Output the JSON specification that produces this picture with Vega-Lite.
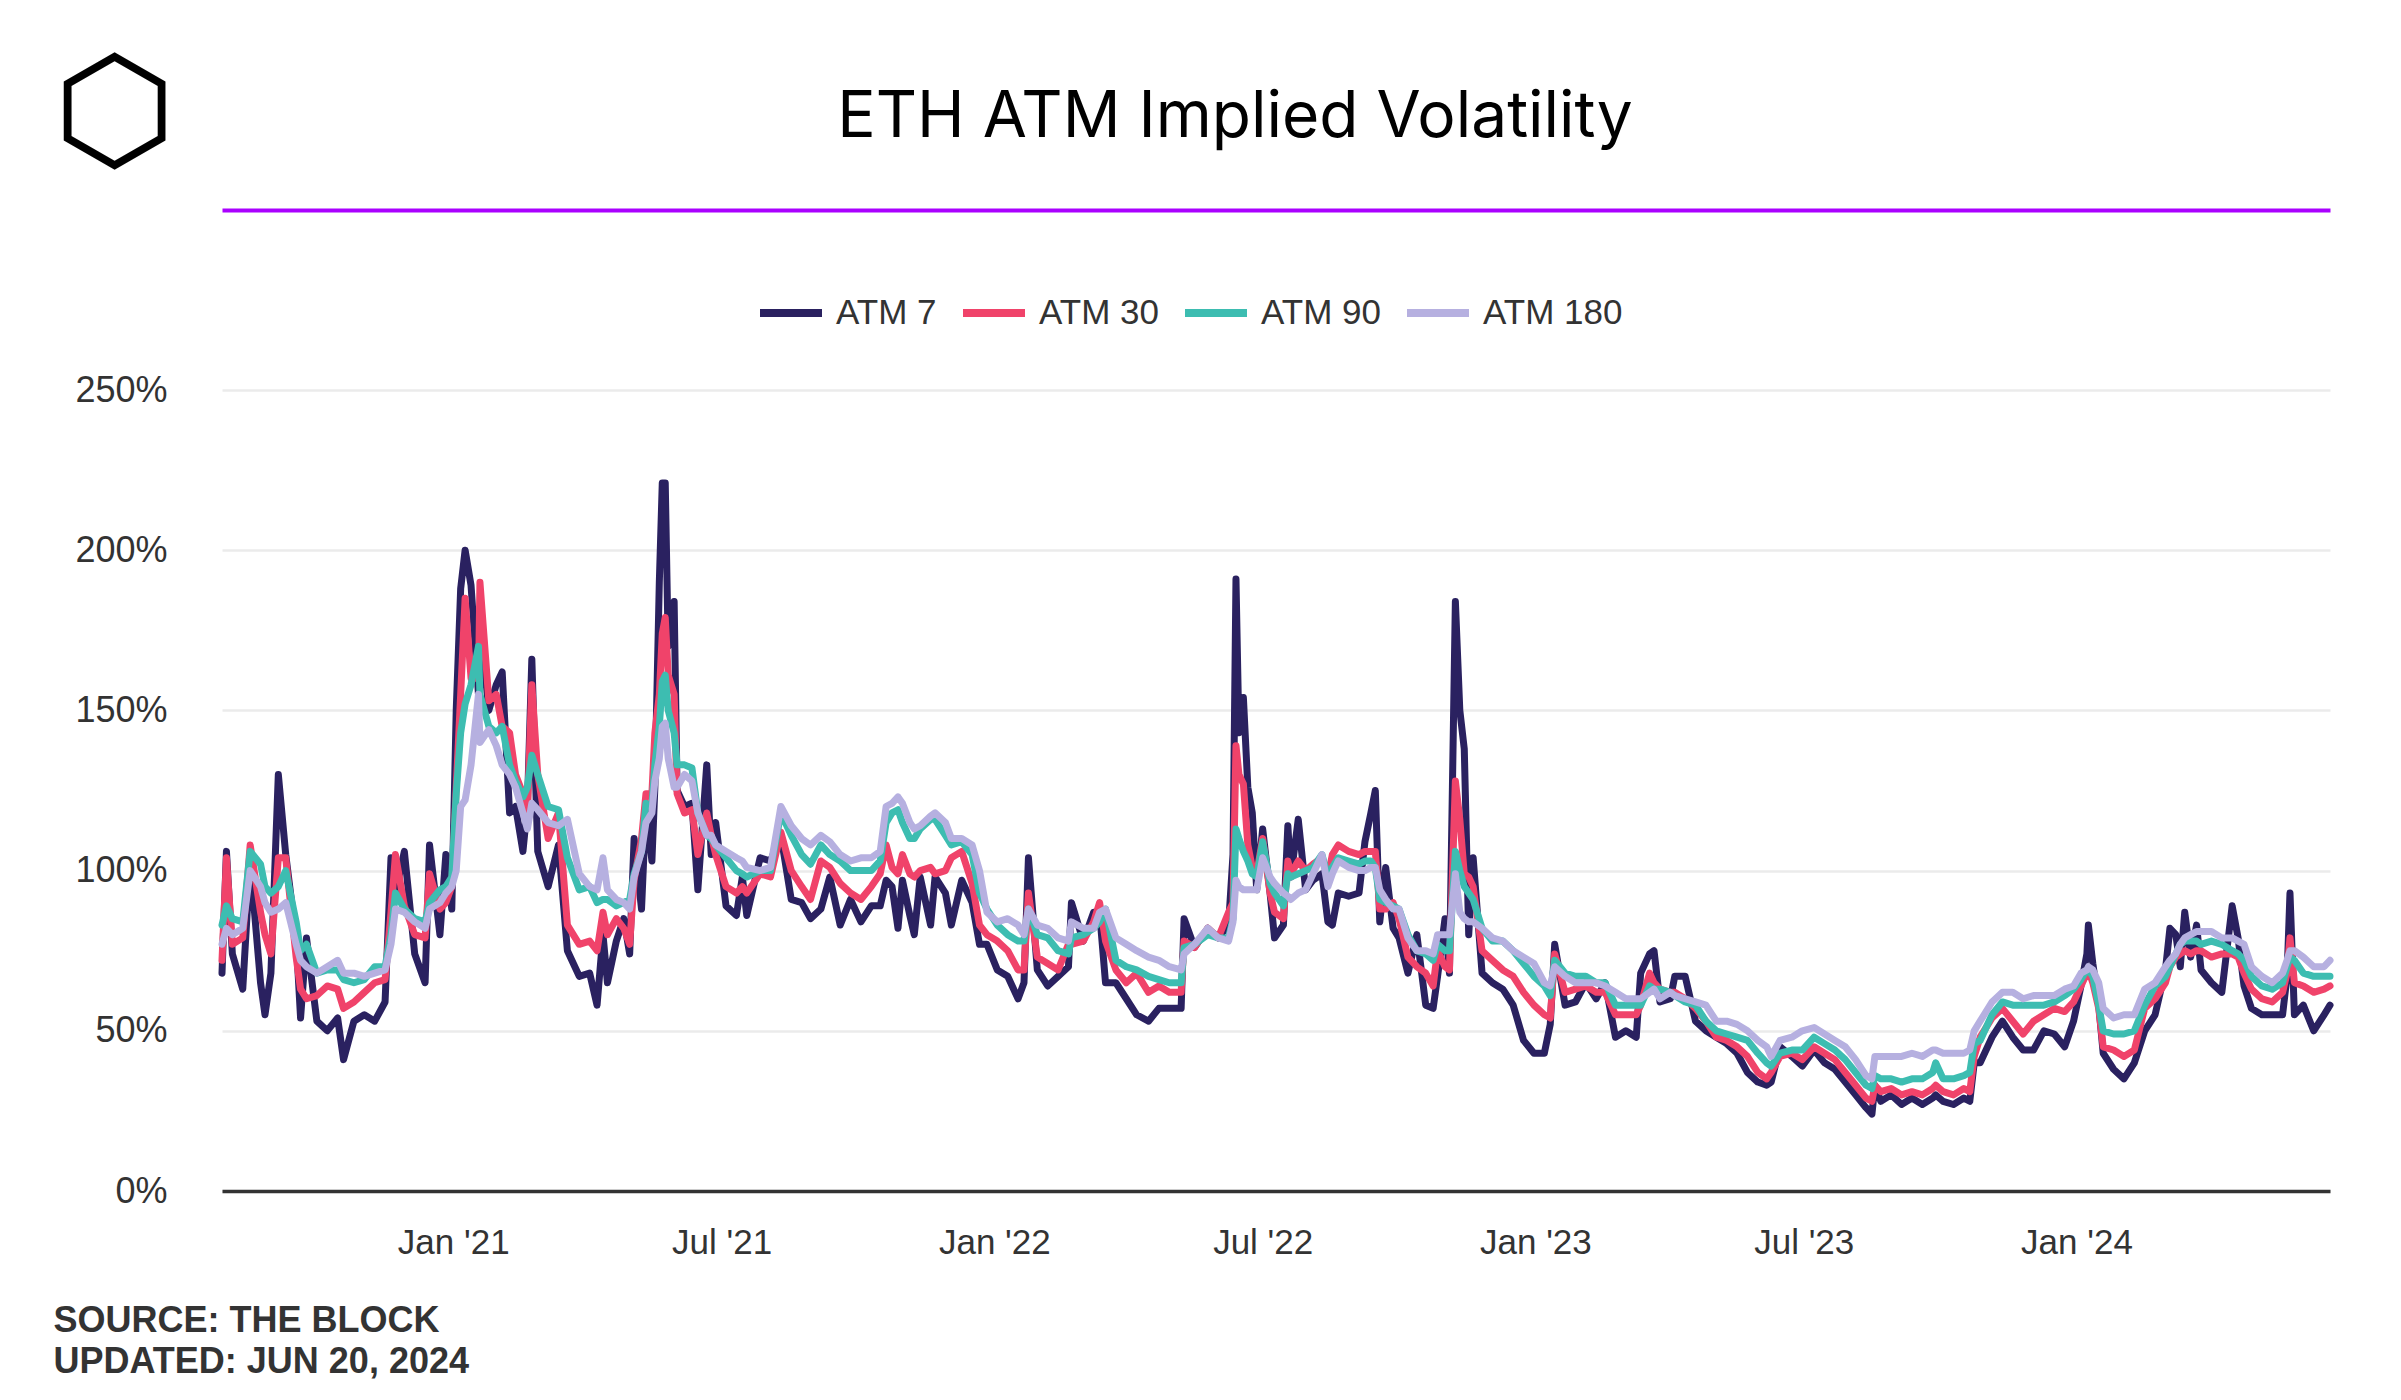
{
  "$schema": "https://vega.github.io/schema/vega-lite/v6.json",
  "width": 2108,
  "height": 801,
  "autosize": {"type": "none"},
  "padding": {"left": 222, "top": 390, "right": 71, "bottom": 209},
  "background": "#ffffff",
  "title": {"text": "ETH ATM Implied Volatility", "font": "Inter", "fontSize": 64, "fontWeight": 400, "color": "#000000", "anchor": "middle", "frame": "group", "dx": -41, "offset": -157, "baseline": "alphabetic"},
  "data": {
    "format": {"parse": {"d": "date:'%Y-%m-%d'"}},
    "values": [
      {"d":"2020-07-29","ATM 7":68,"ATM 30":72,"ATM 90":83,"ATM 180":77},
      {"d":"2020-08-01","ATM 7":106,"ATM 30":104,"ATM 90":89,"ATM 180":82},
      {"d":"2020-08-05","ATM 7":74,"ATM 30":77,"ATM 90":85,"ATM 180":80},
      {"d":"2020-08-12","ATM 7":63,"ATM 30":79,"ATM 90":84,"ATM 180":82},
      {"d":"2020-08-17","ATM 7":103,"ATM 30":108,"ATM 90":106,"ATM 180":100},
      {"d":"2020-08-24","ATM 7":65,"ATM 30":87,"ATM 90":102,"ATM 180":95},
      {"d":"2020-08-27","ATM 7":55,"ATM 30":80,"ATM 90":95,"ATM 180":90},
      {"d":"2020-08-31","ATM 7":68,"ATM 30":74,"ATM 90":93,"ATM 180":87},
      {"d":"2020-09-05","ATM 7":130,"ATM 30":104,"ATM 90":95,"ATM 180":88},
      {"d":"2020-09-10","ATM 7":105,"ATM 30":104,"ATM 90":100,"ATM 180":90},
      {"d":"2020-09-17","ATM 7":79,"ATM 30":73,"ATM 90":84,"ATM 180":77},
      {"d":"2020-09-20","ATM 7":54,"ATM 30":63,"ATM 90":75,"ATM 180":72},
      {"d":"2020-09-24","ATM 7":79,"ATM 30":60,"ATM 90":77,"ATM 180":70},
      {"d":"2020-10-01","ATM 7":53,"ATM 30":61,"ATM 90":68,"ATM 180":68},
      {"d":"2020-10-08","ATM 7":50,"ATM 30":64,"ATM 90":69,"ATM 180":70},
      {"d":"2020-10-15","ATM 7":54,"ATM 30":63,"ATM 90":69,"ATM 180":72},
      {"d":"2020-10-19","ATM 7":41,"ATM 30":57,"ATM 90":66,"ATM 180":68},
      {"d":"2020-10-26","ATM 7":53,"ATM 30":59,"ATM 90":65,"ATM 180":68},
      {"d":"2020-11-02","ATM 7":55,"ATM 30":62,"ATM 90":66,"ATM 180":67},
      {"d":"2020-11-09","ATM 7":53,"ATM 30":65,"ATM 90":70,"ATM 180":68},
      {"d":"2020-11-16","ATM 7":59,"ATM 30":66,"ATM 90":70,"ATM 180":69},
      {"d":"2020-11-20","ATM 7":104,"ATM 30":87,"ATM 90":80,"ATM 180":77},
      {"d":"2020-11-23","ATM 7":93,"ATM 30":105,"ATM 90":93,"ATM 180":88},
      {"d":"2020-11-29","ATM 7":106,"ATM 30":89,"ATM 90":88,"ATM 180":87},
      {"d":"2020-12-06","ATM 7":74,"ATM 30":80,"ATM 90":85,"ATM 180":84},
      {"d":"2020-12-13","ATM 7":65,"ATM 30":79,"ATM 90":84,"ATM 180":82},
      {"d":"2020-12-16","ATM 7":108,"ATM 30":99,"ATM 90":90,"ATM 180":88},
      {"d":"2020-12-23","ATM 7":80,"ATM 30":88,"ATM 90":94,"ATM 180":90},
      {"d":"2020-12-27","ATM 7":105,"ATM 30":90,"ATM 90":95,"ATM 180":93},
      {"d":"2020-12-31","ATM 7":88,"ATM 30":95,"ATM 90":98,"ATM 180":95},
      {"d":"2021-01-03","ATM 7":150,"ATM 30":126,"ATM 90":124,"ATM 180":100},
      {"d":"2021-01-06","ATM 7":188,"ATM 30":155,"ATM 90":143,"ATM 180":120},
      {"d":"2021-01-09","ATM 7":200,"ATM 30":185,"ATM 90":152,"ATM 180":122},
      {"d":"2021-01-13","ATM 7":189,"ATM 30":160,"ATM 90":158,"ATM 180":133},
      {"d":"2021-01-18","ATM 7":155,"ATM 30":160,"ATM 90":170,"ATM 180":155},
      {"d":"2021-01-19","ATM 7":178,"ATM 30":190,"ATM 90":155,"ATM 180":140},
      {"d":"2021-01-25","ATM 7":150,"ATM 30":153,"ATM 90":145,"ATM 180":144},
      {"d":"2021-01-30","ATM 7":158,"ATM 30":155,"ATM 90":143,"ATM 180":139},
      {"d":"2021-02-03","ATM 7":162,"ATM 30":145,"ATM 90":145,"ATM 180":133},
      {"d":"2021-02-08","ATM 7":118,"ATM 30":143,"ATM 90":133,"ATM 180":130},
      {"d":"2021-02-12","ATM 7":120,"ATM 30":130,"ATM 90":128,"ATM 180":126},
      {"d":"2021-02-17","ATM 7":106,"ATM 30":124,"ATM 90":123,"ATM 180":118},
      {"d":"2021-02-20","ATM 7":120,"ATM 30":118,"ATM 90":126,"ATM 180":113},
      {"d":"2021-02-23","ATM 7":166,"ATM 30":158,"ATM 90":136,"ATM 180":121},
      {"d":"2021-02-27","ATM 7":106,"ATM 30":130,"ATM 90":130,"ATM 180":119},
      {"d":"2021-03-06","ATM 7":95,"ATM 30":110,"ATM 90":120,"ATM 180":115},
      {"d":"2021-03-13","ATM 7":108,"ATM 30":118,"ATM 90":119,"ATM 180":114},
      {"d":"2021-03-19","ATM 7":75,"ATM 30":83,"ATM 90":104,"ATM 180":116},
      {"d":"2021-03-27","ATM 7":67,"ATM 30":77,"ATM 90":94,"ATM 180":99},
      {"d":"2021-04-03","ATM 7":68,"ATM 30":78,"ATM 90":95,"ATM 180":95},
      {"d":"2021-04-08","ATM 7":58,"ATM 30":75,"ATM 90":90,"ATM 180":94},
      {"d":"2021-04-12","ATM 7":80,"ATM 30":87,"ATM 90":91,"ATM 180":104},
      {"d":"2021-04-15","ATM 7":65,"ATM 30":80,"ATM 90":91,"ATM 180":94},
      {"d":"2021-04-21","ATM 7":78,"ATM 30":85,"ATM 90":89,"ATM 180":91},
      {"d":"2021-04-26","ATM 7":85,"ATM 30":82,"ATM 90":90,"ATM 180":90},
      {"d":"2021-04-30","ATM 7":74,"ATM 30":77,"ATM 90":91,"ATM 180":88},
      {"d":"2021-05-03","ATM 7":110,"ATM 30":97,"ATM 90":99,"ATM 180":98},
      {"d":"2021-05-08","ATM 7":88,"ATM 30":110,"ATM 90":106,"ATM 180":106},
      {"d":"2021-05-11","ATM 7":120,"ATM 30":124,"ATM 90":121,"ATM 180":115},
      {"d":"2021-05-15","ATM 7":103,"ATM 30":124,"ATM 90":120,"ATM 180":118},
      {"d":"2021-05-17","ATM 7":126,"ATM 30":143,"ATM 90":133,"ATM 180":128},
      {"d":"2021-05-20","ATM 7":190,"ATM 30":155,"ATM 90":145,"ATM 180":135},
      {"d":"2021-05-22","ATM 7":221,"ATM 30":174,"ATM 90":159,"ATM 180":145},
      {"d":"2021-05-24","ATM 7":221,"ATM 30":179,"ATM 90":161,"ATM 180":146},
      {"d":"2021-05-26","ATM 7":170,"ATM 30":161,"ATM 90":150,"ATM 180":135},
      {"d":"2021-05-30","ATM 7":184,"ATM 30":155,"ATM 90":143,"ATM 180":126},
      {"d":"2021-06-01","ATM 7":125,"ATM 30":124,"ATM 90":133,"ATM 180":126},
      {"d":"2021-06-06","ATM 7":120,"ATM 30":118,"ATM 90":133,"ATM 180":130},
      {"d":"2021-06-11","ATM 7":121,"ATM 30":119,"ATM 90":132,"ATM 180":128},
      {"d":"2021-06-15","ATM 7":94,"ATM 30":105,"ATM 90":118,"ATM 180":118},
      {"d":"2021-06-21","ATM 7":133,"ATM 30":118,"ATM 90":111,"ATM 180":111},
      {"d":"2021-06-24","ATM 7":105,"ATM 30":111,"ATM 90":110,"ATM 180":111},
      {"d":"2021-06-27","ATM 7":115,"ATM 30":105,"ATM 90":108,"ATM 180":108},
      {"d":"2021-07-04","ATM 7":89,"ATM 30":95,"ATM 90":104,"ATM 180":106},
      {"d":"2021-07-11","ATM 7":86,"ATM 30":93,"ATM 90":100,"ATM 180":104},
      {"d":"2021-07-15","ATM 7":98,"ATM 30":95,"ATM 90":99,"ATM 180":103},
      {"d":"2021-07-18","ATM 7":86,"ATM 30":93,"ATM 90":98,"ATM 180":101},
      {"d":"2021-07-27","ATM 7":104,"ATM 30":99,"ATM 90":100,"ATM 180":100},
      {"d":"2021-08-03","ATM 7":103,"ATM 30":98,"ATM 90":100,"ATM 180":101},
      {"d":"2021-08-10","ATM 7":111,"ATM 30":112,"ATM 90":118,"ATM 180":120},
      {"d":"2021-08-17","ATM 7":91,"ATM 30":100,"ATM 90":111,"ATM 180":114},
      {"d":"2021-08-24","ATM 7":90,"ATM 30":95,"ATM 90":105,"ATM 180":110},
      {"d":"2021-08-30","ATM 7":85,"ATM 30":91,"ATM 90":102,"ATM 180":108},
      {"d":"2021-09-06","ATM 7":88,"ATM 30":103,"ATM 90":108,"ATM 180":111},
      {"d":"2021-09-12","ATM 7":98,"ATM 30":101,"ATM 90":105,"ATM 180":109},
      {"d":"2021-09-19","ATM 7":83,"ATM 30":96,"ATM 90":103,"ATM 180":105},
      {"d":"2021-09-26","ATM 7":91,"ATM 30":93,"ATM 90":100,"ATM 180":103},
      {"d":"2021-10-03","ATM 7":84,"ATM 30":91,"ATM 90":100,"ATM 180":104},
      {"d":"2021-10-10","ATM 7":89,"ATM 30":95,"ATM 90":100,"ATM 180":104},
      {"d":"2021-10-16","ATM 7":89,"ATM 30":99,"ATM 90":103,"ATM 180":106},
      {"d":"2021-10-20","ATM 7":97,"ATM 30":108,"ATM 90":115,"ATM 180":120},
      {"d":"2021-10-24","ATM 7":95,"ATM 30":101,"ATM 90":118,"ATM 180":121},
      {"d":"2021-10-28","ATM 7":82,"ATM 30":99,"ATM 90":119,"ATM 180":123},
      {"d":"2021-10-31","ATM 7":97,"ATM 30":105,"ATM 90":115,"ATM 180":121},
      {"d":"2021-11-05","ATM 7":86,"ATM 30":99,"ATM 90":110,"ATM 180":115},
      {"d":"2021-11-08","ATM 7":80,"ATM 30":98,"ATM 90":110,"ATM 180":113},
      {"d":"2021-11-12","ATM 7":98,"ATM 30":100,"ATM 90":113,"ATM 180":114},
      {"d":"2021-11-19","ATM 7":83,"ATM 30":101,"ATM 90":116,"ATM 180":117},
      {"d":"2021-11-22","ATM 7":98,"ATM 30":99,"ATM 90":116,"ATM 180":118},
      {"d":"2021-11-29","ATM 7":93,"ATM 30":100,"ATM 90":111,"ATM 180":115},
      {"d":"2021-12-03","ATM 7":83,"ATM 30":104,"ATM 90":108,"ATM 180":110},
      {"d":"2021-12-10","ATM 7":97,"ATM 30":106,"ATM 90":109,"ATM 180":110},
      {"d":"2021-12-17","ATM 7":90,"ATM 30":96,"ATM 90":105,"ATM 180":108},
      {"d":"2021-12-22","ATM 7":77,"ATM 30":83,"ATM 90":93,"ATM 180":100},
      {"d":"2021-12-27","ATM 7":77,"ATM 30":80,"ATM 90":88,"ATM 180":87},
      {"d":"2022-01-03","ATM 7":69,"ATM 30":78,"ATM 90":83,"ATM 180":84},
      {"d":"2022-01-10","ATM 7":67,"ATM 30":75,"ATM 90":80,"ATM 180":85},
      {"d":"2022-01-17","ATM 7":60,"ATM 30":69,"ATM 90":78,"ATM 180":83},
      {"d":"2022-01-21","ATM 7":65,"ATM 30":69,"ATM 90":78,"ATM 180":80},
      {"d":"2022-01-24","ATM 7":104,"ATM 30":93,"ATM 90":88,"ATM 180":88},
      {"d":"2022-01-30","ATM 7":69,"ATM 30":73,"ATM 90":80,"ATM 180":83},
      {"d":"2022-02-06","ATM 7":64,"ATM 30":71,"ATM 90":79,"ATM 180":82},
      {"d":"2022-02-13","ATM 7":67,"ATM 30":69,"ATM 90":75,"ATM 180":79},
      {"d":"2022-02-20","ATM 7":70,"ATM 30":77,"ATM 90":74,"ATM 180":78},
      {"d":"2022-02-22","ATM 7":90,"ATM 30":77,"ATM 90":79,"ATM 180":84},
      {"d":"2022-03-02","ATM 7":78,"ATM 30":78,"ATM 90":80,"ATM 180":82},
      {"d":"2022-03-09","ATM 7":87,"ATM 30":84,"ATM 90":82,"ATM 180":82},
      {"d":"2022-03-13","ATM 7":87,"ATM 30":90,"ATM 90":84,"ATM 180":87},
      {"d":"2022-03-17","ATM 7":65,"ATM 30":78,"ATM 90":88,"ATM 180":88},
      {"d":"2022-03-24","ATM 7":65,"ATM 30":69,"ATM 90":72,"ATM 180":79},
      {"d":"2022-03-31","ATM 7":60,"ATM 30":65,"ATM 90":70,"ATM 180":77},
      {"d":"2022-04-07","ATM 7":55,"ATM 30":68,"ATM 90":69,"ATM 180":75},
      {"d":"2022-04-15","ATM 7":53,"ATM 30":62,"ATM 90":67,"ATM 180":73},
      {"d":"2022-04-22","ATM 7":57,"ATM 30":64,"ATM 90":66,"ATM 180":72},
      {"d":"2022-04-29","ATM 7":57,"ATM 30":62,"ATM 90":65,"ATM 180":70},
      {"d":"2022-05-07","ATM 7":57,"ATM 30":62,"ATM 90":65,"ATM 180":69},
      {"d":"2022-05-09","ATM 7":85,"ATM 30":78,"ATM 90":76,"ATM 180":74},
      {"d":"2022-05-16","ATM 7":76,"ATM 30":76,"ATM 90":77,"ATM 180":77},
      {"d":"2022-05-25","ATM 7":82,"ATM 30":82,"ATM 90":80,"ATM 180":82},
      {"d":"2022-06-01","ATM 7":79,"ATM 30":79,"ATM 90":79,"ATM 180":79},
      {"d":"2022-06-08","ATM 7":83,"ATM 30":87,"ATM 90":79,"ATM 180":78},
      {"d":"2022-06-11","ATM 7":105,"ATM 30":90,"ATM 90":85,"ATM 180":84},
      {"d":"2022-06-13","ATM 7":191,"ATM 30":139,"ATM 90":113,"ATM 180":97},
      {"d":"2022-06-15","ATM 7":143,"ATM 30":130,"ATM 90":110,"ATM 180":95},
      {"d":"2022-06-18","ATM 7":154,"ATM 30":127,"ATM 90":106,"ATM 180":94},
      {"d":"2022-06-21","ATM 7":126,"ATM 30":108,"ATM 90":103,"ATM 180":94},
      {"d":"2022-06-24","ATM 7":118,"ATM 30":101,"ATM 90":99,"ATM 180":94},
      {"d":"2022-06-27","ATM 7":94,"ATM 30":99,"ATM 90":98,"ATM 180":94},
      {"d":"2022-07-01","ATM 7":113,"ATM 30":110,"ATM 90":109,"ATM 180":104},
      {"d":"2022-07-06","ATM 7":93,"ATM 30":93,"ATM 90":96,"ATM 180":98},
      {"d":"2022-07-09","ATM 7":79,"ATM 30":87,"ATM 90":93,"ATM 180":96},
      {"d":"2022-07-15","ATM 7":83,"ATM 30":85,"ATM 90":89,"ATM 180":93},
      {"d":"2022-07-18","ATM 7":114,"ATM 30":103,"ATM 90":99,"ATM 180":92},
      {"d":"2022-07-20","ATM 7":98,"ATM 30":99,"ATM 90":98,"ATM 180":91},
      {"d":"2022-07-25","ATM 7":116,"ATM 30":103,"ATM 90":99,"ATM 180":93},
      {"d":"2022-07-30","ATM 7":94,"ATM 30":100,"ATM 90":100,"ATM 180":94},
      {"d":"2022-08-04","ATM 7":97,"ATM 30":102,"ATM 90":101,"ATM 180":99},
      {"d":"2022-08-10","ATM 7":99,"ATM 30":104,"ATM 90":105,"ATM 180":105},
      {"d":"2022-08-14","ATM 7":84,"ATM 30":98,"ATM 90":98,"ATM 180":95},
      {"d":"2022-08-17","ATM 7":83,"ATM 30":105,"ATM 90":101,"ATM 180":99},
      {"d":"2022-08-21","ATM 7":93,"ATM 30":108,"ATM 90":104,"ATM 180":103},
      {"d":"2022-08-28","ATM 7":92,"ATM 30":106,"ATM 90":103,"ATM 180":101},
      {"d":"2022-09-04","ATM 7":93,"ATM 30":105,"ATM 90":102,"ATM 180":100},
      {"d":"2022-09-08","ATM 7":109,"ATM 30":106,"ATM 90":103,"ATM 180":100},
      {"d":"2022-09-12","ATM 7":118,"ATM 30":106,"ATM 90":103,"ATM 180":101},
      {"d":"2022-09-15","ATM 7":125,"ATM 30":106,"ATM 90":101,"ATM 180":101},
      {"d":"2022-09-18","ATM 7":84,"ATM 30":88,"ATM 90":91,"ATM 180":94},
      {"d":"2022-09-22","ATM 7":101,"ATM 30":88,"ATM 90":90,"ATM 180":91},
      {"d":"2022-09-27","ATM 7":82,"ATM 30":90,"ATM 90":89,"ATM 180":88},
      {"d":"2022-10-01","ATM 7":79,"ATM 30":85,"ATM 90":88,"ATM 180":88},
      {"d":"2022-10-07","ATM 7":68,"ATM 30":73,"ATM 90":80,"ATM 180":79},
      {"d":"2022-10-13","ATM 7":80,"ATM 30":70,"ATM 90":75,"ATM 180":75},
      {"d":"2022-10-19","ATM 7":58,"ATM 30":68,"ATM 90":74,"ATM 180":75},
      {"d":"2022-10-24","ATM 7":57,"ATM 30":64,"ATM 90":72,"ATM 180":74},
      {"d":"2022-10-27","ATM 7":67,"ATM 30":75,"ATM 90":77,"ATM 180":80},
      {"d":"2022-11-01","ATM 7":85,"ATM 30":70,"ATM 90":75,"ATM 180":80},
      {"d":"2022-11-04","ATM 7":68,"ATM 30":69,"ATM 90":75,"ATM 180":80},
      {"d":"2022-11-08","ATM 7":184,"ATM 30":128,"ATM 90":106,"ATM 180":99},
      {"d":"2022-11-11","ATM 7":150,"ATM 30":116,"ATM 90":100,"ATM 180":87},
      {"d":"2022-11-14","ATM 7":138,"ATM 30":99,"ATM 90":95,"ATM 180":85},
      {"d":"2022-11-17","ATM 7":80,"ATM 30":98,"ATM 90":93,"ATM 180":84},
      {"d":"2022-11-20","ATM 7":104,"ATM 30":95,"ATM 90":91,"ATM 180":84},
      {"d":"2022-11-26","ATM 7":68,"ATM 30":75,"ATM 90":82,"ATM 180":82},
      {"d":"2022-12-03","ATM 7":65,"ATM 30":72,"ATM 90":78,"ATM 180":79},
      {"d":"2022-12-10","ATM 7":63,"ATM 30":69,"ATM 90":78,"ATM 180":78},
      {"d":"2022-12-17","ATM 7":58,"ATM 30":67,"ATM 90":75,"ATM 180":75},
      {"d":"2022-12-24","ATM 7":47,"ATM 30":62,"ATM 90":71,"ATM 180":73},
      {"d":"2022-12-31","ATM 7":43,"ATM 30":58,"ATM 90":67,"ATM 180":71},
      {"d":"2023-01-07","ATM 7":43,"ATM 30":55,"ATM 90":64,"ATM 180":65},
      {"d":"2023-01-11","ATM 7":52,"ATM 30":54,"ATM 90":61,"ATM 180":64},
      {"d":"2023-01-14","ATM 7":77,"ATM 30":74,"ATM 90":72,"ATM 180":70},
      {"d":"2023-01-21","ATM 7":58,"ATM 30":62,"ATM 90":68,"ATM 180":67},
      {"d":"2023-01-28","ATM 7":59,"ATM 30":63,"ATM 90":67,"ATM 180":65},
      {"d":"2023-02-04","ATM 7":65,"ATM 30":64,"ATM 90":67,"ATM 180":65},
      {"d":"2023-02-11","ATM 7":60,"ATM 30":62,"ATM 90":65,"ATM 180":65},
      {"d":"2023-02-17","ATM 7":65,"ATM 30":62,"ATM 90":65,"ATM 180":64},
      {"d":"2023-02-24","ATM 7":48,"ATM 30":55,"ATM 90":58,"ATM 180":62},
      {"d":"2023-03-03","ATM 7":50,"ATM 30":55,"ATM 90":58,"ATM 180":60},
      {"d":"2023-03-10","ATM 7":48,"ATM 30":55,"ATM 90":58,"ATM 180":60},
      {"d":"2023-03-13","ATM 7":68,"ATM 30":58,"ATM 90":58,"ATM 180":60},
      {"d":"2023-03-19","ATM 7":74,"ATM 30":68,"ATM 90":64,"ATM 180":62},
      {"d":"2023-03-22","ATM 7":75,"ATM 30":65,"ATM 90":63,"ATM 180":63},
      {"d":"2023-03-26","ATM 7":59,"ATM 30":63,"ATM 90":63,"ATM 180":60},
      {"d":"2023-04-02","ATM 7":60,"ATM 30":62,"ATM 90":62,"ATM 180":62},
      {"d":"2023-04-05","ATM 7":67,"ATM 30":62,"ATM 90":61,"ATM 180":61},
      {"d":"2023-04-12","ATM 7":67,"ATM 30":60,"ATM 90":59,"ATM 180":60},
      {"d":"2023-04-19","ATM 7":53,"ATM 30":57,"ATM 90":58,"ATM 180":59},
      {"d":"2023-04-26","ATM 7":50,"ATM 30":53,"ATM 90":53,"ATM 180":58},
      {"d":"2023-05-03","ATM 7":48,"ATM 30":48,"ATM 90":50,"ATM 180":53},
      {"d":"2023-05-10","ATM 7":46,"ATM 30":47,"ATM 90":49,"ATM 180":53},
      {"d":"2023-05-17","ATM 7":43,"ATM 30":45,"ATM 90":48,"ATM 180":52},
      {"d":"2023-05-24","ATM 7":37,"ATM 30":42,"ATM 90":47,"ATM 180":50},
      {"d":"2023-05-31","ATM 7":34,"ATM 30":37,"ATM 90":43,"ATM 180":47},
      {"d":"2023-06-06","ATM 7":33,"ATM 30":35,"ATM 90":40,"ATM 180":45},
      {"d":"2023-06-09","ATM 7":34,"ATM 30":37,"ATM 90":39,"ATM 180":42},
      {"d":"2023-06-15","ATM 7":45,"ATM 30":42,"ATM 90":43,"ATM 180":47},
      {"d":"2023-06-23","ATM 7":42,"ATM 30":43,"ATM 90":44,"ATM 180":48},
      {"d":"2023-06-30","ATM 7":39,"ATM 30":41,"ATM 90":44,"ATM 180":50},
      {"d":"2023-07-08","ATM 7":44,"ATM 30":45,"ATM 90":48,"ATM 180":51},
      {"d":"2023-07-15","ATM 7":40,"ATM 30":43,"ATM 90":46,"ATM 180":49},
      {"d":"2023-07-22","ATM 7":38,"ATM 30":41,"ATM 90":44,"ATM 180":47},
      {"d":"2023-07-29","ATM 7":34,"ATM 30":37,"ATM 90":41,"ATM 180":45},
      {"d":"2023-08-05","ATM 7":30,"ATM 30":33,"ATM 90":37,"ATM 180":41},
      {"d":"2023-08-12","ATM 7":26,"ATM 30":29,"ATM 90":33,"ATM 180":36},
      {"d":"2023-08-16","ATM 7":24,"ATM 30":28,"ATM 90":32,"ATM 180":35},
      {"d":"2023-08-18","ATM 7":33,"ATM 30":33,"ATM 90":36,"ATM 180":42},
      {"d":"2023-08-22","ATM 7":28,"ATM 30":31,"ATM 90":35,"ATM 180":42},
      {"d":"2023-08-29","ATM 7":30,"ATM 30":32,"ATM 90":35,"ATM 180":42},
      {"d":"2023-09-05","ATM 7":27,"ATM 30":30,"ATM 90":34,"ATM 180":42},
      {"d":"2023-09-12","ATM 7":29,"ATM 30":31,"ATM 90":35,"ATM 180":43},
      {"d":"2023-09-19","ATM 7":27,"ATM 30":30,"ATM 90":35,"ATM 180":42},
      {"d":"2023-09-26","ATM 7":29,"ATM 30":32,"ATM 90":37,"ATM 180":44},
      {"d":"2023-09-28","ATM 7":30,"ATM 30":33,"ATM 90":40,"ATM 180":44},
      {"d":"2023-10-03","ATM 7":28,"ATM 30":31,"ATM 90":35,"ATM 180":43},
      {"d":"2023-10-10","ATM 7":27,"ATM 30":30,"ATM 90":35,"ATM 180":43},
      {"d":"2023-10-17","ATM 7":29,"ATM 30":32,"ATM 90":36,"ATM 180":43},
      {"d":"2023-10-21","ATM 7":28,"ATM 30":31,"ATM 90":37,"ATM 180":44},
      {"d":"2023-10-24","ATM 7":40,"ATM 30":42,"ATM 90":46,"ATM 180":50},
      {"d":"2023-10-28","ATM 7":40,"ATM 30":48,"ATM 90":47,"ATM 180":53},
      {"d":"2023-11-05","ATM 7":48,"ATM 30":54,"ATM 90":55,"ATM 180":59},
      {"d":"2023-11-12","ATM 7":53,"ATM 30":57,"ATM 90":59,"ATM 180":62},
      {"d":"2023-11-19","ATM 7":48,"ATM 30":53,"ATM 90":58,"ATM 180":62},
      {"d":"2023-11-26","ATM 7":44,"ATM 30":49,"ATM 90":58,"ATM 180":60},
      {"d":"2023-12-03","ATM 7":44,"ATM 30":53,"ATM 90":58,"ATM 180":61},
      {"d":"2023-12-10","ATM 7":50,"ATM 30":55,"ATM 90":58,"ATM 180":61},
      {"d":"2023-12-17","ATM 7":49,"ATM 30":57,"ATM 90":59,"ATM 180":61},
      {"d":"2023-12-24","ATM 7":45,"ATM 30":56,"ATM 90":61,"ATM 180":63},
      {"d":"2023-12-30","ATM 7":53,"ATM 30":59,"ATM 90":63,"ATM 180":64},
      {"d":"2024-01-04","ATM 7":64,"ATM 30":64,"ATM 90":66,"ATM 180":68},
      {"d":"2024-01-08","ATM 7":74,"ATM 30":68,"ATM 90":69,"ATM 180":69},
      {"d":"2024-01-09","ATM 7":83,"ATM 30":69,"ATM 90":69,"ATM 180":70},
      {"d":"2024-01-12","ATM 7":71,"ATM 30":65,"ATM 90":67,"ATM 180":69},
      {"d":"2024-01-16","ATM 7":58,"ATM 30":57,"ATM 90":58,"ATM 180":65},
      {"d":"2024-01-19","ATM 7":43,"ATM 30":45,"ATM 90":50,"ATM 180":57},
      {"d":"2024-01-26","ATM 7":38,"ATM 30":44,"ATM 90":49,"ATM 180":54},
      {"d":"2024-02-02","ATM 7":35,"ATM 30":42,"ATM 90":49,"ATM 180":55},
      {"d":"2024-02-09","ATM 7":40,"ATM 30":44,"ATM 90":50,"ATM 180":55},
      {"d":"2024-02-16","ATM 7":50,"ATM 30":57,"ATM 90":58,"ATM 180":63},
      {"d":"2024-02-23","ATM 7":55,"ATM 30":60,"ATM 90":64,"ATM 180":65},
      {"d":"2024-03-01","ATM 7":69,"ATM 30":65,"ATM 90":67,"ATM 180":70},
      {"d":"2024-03-04","ATM 7":82,"ATM 30":70,"ATM 90":70,"ATM 180":72},
      {"d":"2024-03-08","ATM 7":80,"ATM 30":73,"ATM 90":74,"ATM 180":74},
      {"d":"2024-03-11","ATM 7":70,"ATM 30":74,"ATM 90":77,"ATM 180":77},
      {"d":"2024-03-14","ATM 7":87,"ATM 30":75,"ATM 90":78,"ATM 180":79},
      {"d":"2024-03-18","ATM 7":73,"ATM 30":74,"ATM 90":78,"ATM 180":80},
      {"d":"2024-03-22","ATM 7":83,"ATM 30":75,"ATM 90":78,"ATM 180":81},
      {"d":"2024-03-25","ATM 7":69,"ATM 30":75,"ATM 90":77,"ATM 180":81},
      {"d":"2024-04-01","ATM 7":65,"ATM 30":73,"ATM 90":78,"ATM 180":81},
      {"d":"2024-04-08","ATM 7":62,"ATM 30":74,"ATM 90":77,"ATM 180":79},
      {"d":"2024-04-15","ATM 7":89,"ATM 30":74,"ATM 90":75,"ATM 180":79},
      {"d":"2024-04-19","ATM 7":79,"ATM 30":73,"ATM 90":74,"ATM 180":78},
      {"d":"2024-04-23","ATM 7":64,"ATM 30":68,"ATM 90":72,"ATM 180":77},
      {"d":"2024-04-28","ATM 7":57,"ATM 30":63,"ATM 90":67,"ATM 180":70},
      {"d":"2024-05-05","ATM 7":55,"ATM 30":60,"ATM 90":64,"ATM 180":67},
      {"d":"2024-05-12","ATM 7":55,"ATM 30":59,"ATM 90":63,"ATM 180":65},
      {"d":"2024-05-19","ATM 7":55,"ATM 30":62,"ATM 90":65,"ATM 180":68},
      {"d":"2024-05-22","ATM 7":67,"ATM 30":68,"ATM 90":70,"ATM 180":72},
      {"d":"2024-05-24","ATM 7":93,"ATM 30":79,"ATM 90":73,"ATM 180":75},
      {"d":"2024-05-27","ATM 7":55,"ATM 30":65,"ATM 90":72,"ATM 180":75},
      {"d":"2024-06-02","ATM 7":58,"ATM 30":64,"ATM 90":68,"ATM 180":73},
      {"d":"2024-06-09","ATM 7":50,"ATM 30":62,"ATM 90":67,"ATM 180":70},
      {"d":"2024-06-16","ATM 7":55,"ATM 30":63,"ATM 90":67,"ATM 180":70},
      {"d":"2024-06-20","ATM 7":58,"ATM 30":64,"ATM 90":67,"ATM 180":72}
    ]
  },
  "transform": [{"fold": ["ATM 7", "ATM 30", "ATM 90", "ATM 180"], "as": ["series", "iv"]}],
  "encoding": {
    "x": {
      "field": "d", "type": "temporal", "scale": {"nice": false},
      "axis": {
        "values": [
          {"year": 2021, "month": 1, "date": 1}, {"year": 2021, "month": 7, "date": 1},
          {"year": 2022, "month": 1, "date": 1}, {"year": 2022, "month": 7, "date": 1},
          {"year": 2023, "month": 1, "date": 1}, {"year": 2023, "month": 7, "date": 1},
          {"year": 2024, "month": 1, "date": 1}
        ],
        "format": "%b '%y",
        "labelFont": "Liberation Sans", "labelFontSize": 35, "labelColor": "#333333", "labelPadding": 34,
        "labelFlush": false, "labelOverlap": false,
        "ticks": false, "grid": false,
        "domain": true, "domainColor": "#333333", "domainWidth": 3.5,
        "title": ["SOURCE: THE BLOCK", "UPDATED: JUN 20, 2024"],
        "titleFont": "Liberation Sans", "titleFontSize": 36, "titleFontWeight": "bold", "titleColor": "#333333",
        "titleX": -169, "titleY": 140, "titleAlign": "left", "titleAnchor": "start", "titleBaseline": "alphabetic", "titleLineHeight": 41
      }
    },
    "y": {
      "field": "iv", "type": "quantitative",
      "scale": {"domain": [0, 250], "nice": false},
      "axis": {
        "values": [0, 50, 100, 150, 200, 250],
        "labelExpr": "datum.value + '%'",
        "labelFont": "Liberation Sans", "labelFontSize": 36, "labelColor": "#333333", "labelPadding": 55,
        "ticks": false, "domain": false,
        "grid": true, "gridColor": "#ebebeb", "gridWidth": 2.5,
        "title": "⬡", "titleFont": "DejaVu Sans", "titleFontSize": 140, "titleFontWeight": "bold", "titleColor": "#000000",
        "titleAngle": 0, "titleX": -108, "titleY": -276, "titleAlign": "center", "titleBaseline": "middle"
      }
    },
    "color": {
      "field": "series", "type": "nominal",
      "scale": {"domain": ["ATM 7", "ATM 30", "ATM 90", "ATM 180"], "range": ["#2a2160", "#f0436a", "#3dbdb1", "#b6b0e0"]},
      "legend": {
        "orient": "none", "legendX": 534, "legendY": -112, "direction": "horizontal", "title": null,
        "symbolType": "stroke", "symbolStrokeWidth": 8, "symbolSize": 3844,
        "labelFont": "Liberation Sans", "labelFontSize": 35, "labelColor": "#333333", "labelOffset": 10,
        "columnPadding": 10, "padding": 0
      }
    }
  },
  "layer": [
    {
      "transform": [{"filter": "datum.series === 'ATM 7'"}],
      "mark": {"type": "line", "strokeWidth": 7, "strokeJoin": "round", "strokeCap": "round"}
    },
    {
      "transform": [{"filter": "datum.series === 'ATM 30'"}],
      "mark": {"type": "line", "strokeWidth": 7, "strokeJoin": "round", "strokeCap": "round"},
      "encoding": {"x": {"field": "d", "type": "temporal", "axis": null}}
    },
    {
      "transform": [{"filter": "datum.series === 'ATM 90'"}],
      "mark": {"type": "line", "strokeWidth": 7, "strokeJoin": "round", "strokeCap": "round"},
      "encoding": {"x": {"field": "d", "type": "temporal", "axis": null}}
    },
    {
      "transform": [{"filter": "datum.series === 'ATM 180'"}],
      "mark": {"type": "line", "strokeWidth": 7, "strokeJoin": "round", "strokeCap": "round"},
      "encoding": {"x": {"field": "d", "type": "temporal", "axis": {"orient": "top", "offset": 180, "domain": true, "domainColor": "#aa00ff", "domainWidth": 4, "labels": false, "ticks": false, "grid": false, "title": null}}}
    }
  ],
  "resolve": {"axis": {"x": "independent"}},
  "config": {"view": {"stroke": null}}
}
